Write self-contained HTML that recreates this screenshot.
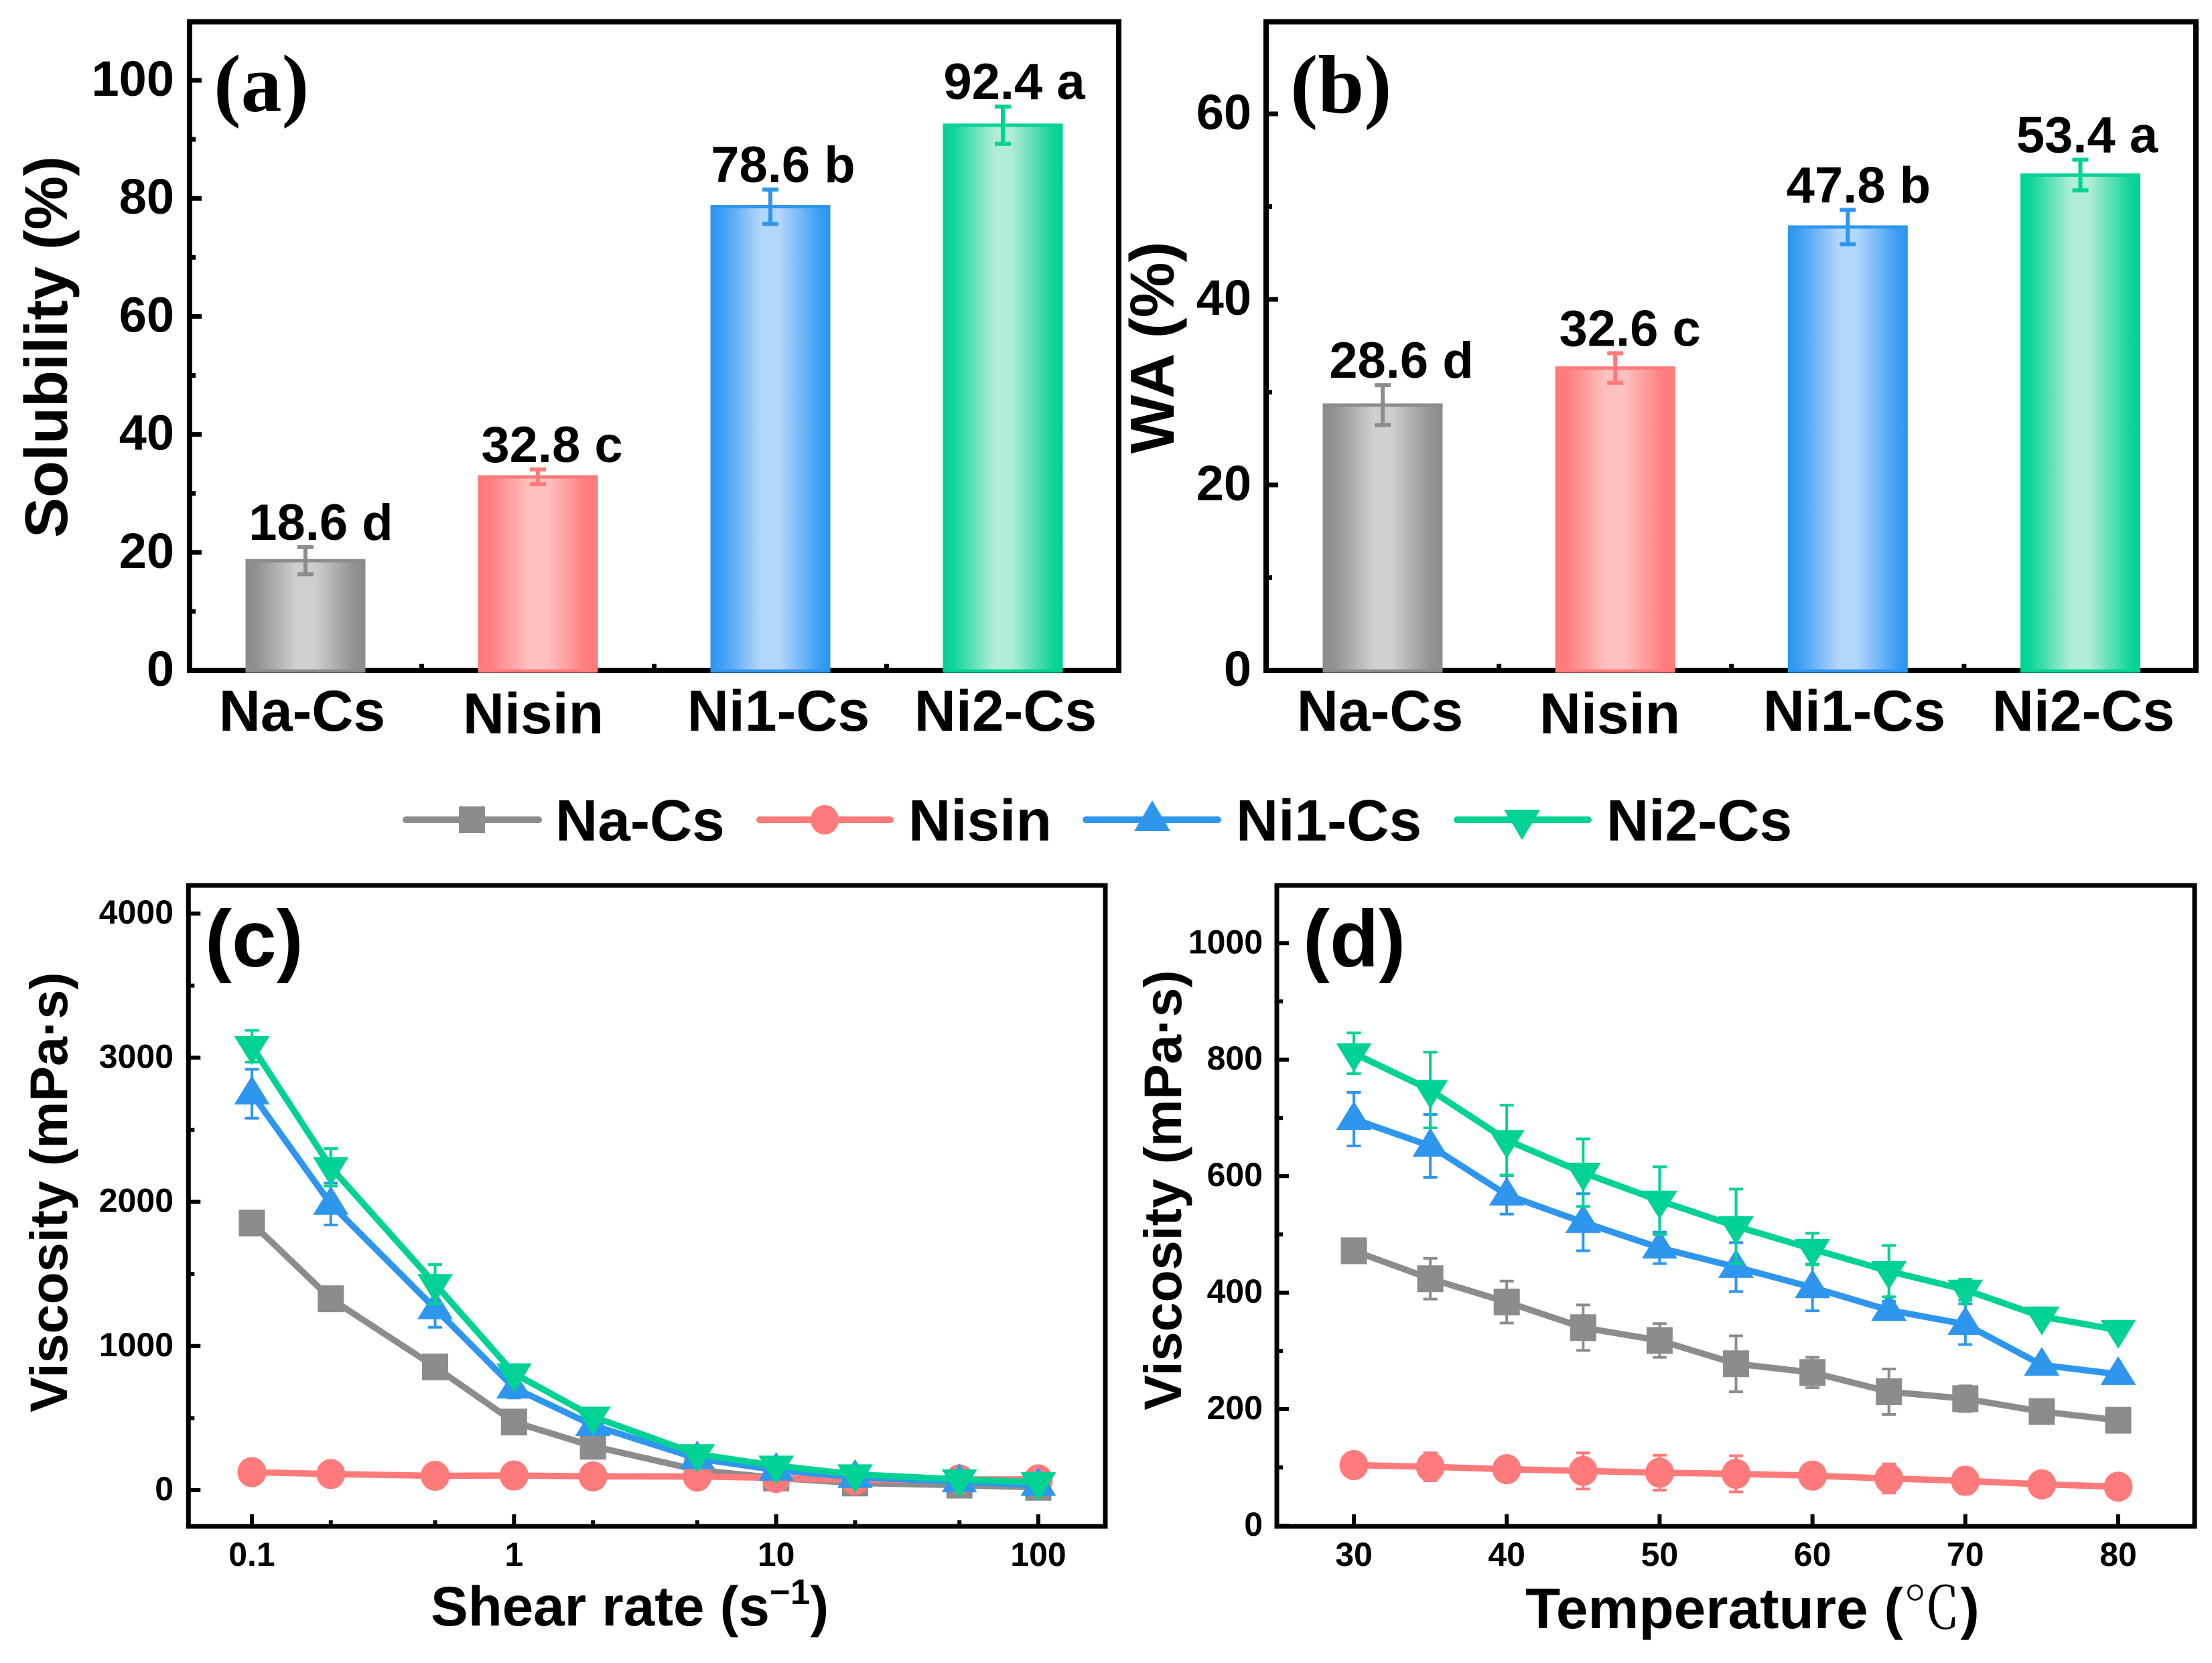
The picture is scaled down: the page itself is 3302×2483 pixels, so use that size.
<!DOCTYPE html>
<html lang="en">
<head>
<meta charset="utf-8">
<title>Solubility, WA and viscosity of Cs films</title>
<style>
html,body{margin:0;padding:0;background:#fff;}
svg{display:block;}
text{font-family:"Liberation Sans","Noto Sans CJK SC",sans-serif;font-weight:bold;fill:#000;}
.serif{font-family:"Liberation Serif","Noto Serif CJK SC",serif;}
</style>
</head>
<body>
<svg id="figure" xmlns="http://www.w3.org/2000/svg" width="3302" height="2483" viewBox="0 0 3302 2483">
  <defs>
    <linearGradient id="grad-gray" x1="0" x2="1" y1="0" y2="0"><stop offset="0" stop-color="#8c8c8c"/><stop offset=".08" stop-color="#919191"/><stop offset=".42" stop-color="#cfcfcf"/><stop offset=".58" stop-color="#cfcfcf"/><stop offset=".92" stop-color="#919191"/><stop offset="1" stop-color="#8c8c8c"/></linearGradient>
    <linearGradient id="grad-red" x1="0" x2="1" y1="0" y2="0"><stop offset="0" stop-color="#ff7a7a"/><stop offset=".08" stop-color="#ff7d7d"/><stop offset=".42" stop-color="#ffc0c0"/><stop offset=".58" stop-color="#ffc0c0"/><stop offset=".92" stop-color="#ff7d7d"/><stop offset="1" stop-color="#ff7a7a"/></linearGradient>
    <linearGradient id="grad-blue" x1="0" x2="1" y1="0" y2="0"><stop offset="0" stop-color="#2f96ee"/><stop offset=".08" stop-color="#3d9ef2"/><stop offset=".42" stop-color="#b3d6fb"/><stop offset=".58" stop-color="#b3d6fb"/><stop offset=".92" stop-color="#3d9ef2"/><stop offset="1" stop-color="#2f96ee"/></linearGradient>
    <linearGradient id="grad-green" x1="0" x2="1" y1="0" y2="0"><stop offset="0" stop-color="#00d295"/><stop offset=".08" stop-color="#14d59c"/><stop offset=".42" stop-color="#b0ecd6"/><stop offset=".58" stop-color="#b0ecd6"/><stop offset=".92" stop-color="#14d59c"/><stop offset="1" stop-color="#00d295"/></linearGradient>
  </defs>

  <g id="panel-a"></g>
  <g id="panel-b"></g>
  <g id="panel-c"></g>
  <g id="panel-d"></g>

  <!-- Panel labels and titles -->
  <text class="serif" x="319" y="166" font-size="122">(a)</text>
  <text class="serif" x="1926" y="168" font-size="124">(b)</text>
  <text x="306" y="1443" font-size="120">(c)</text>
  <text x="1945" y="1443" font-size="120">(d)</text>

  <text transform="translate(100,518) rotate(-90)" text-anchor="middle" font-size="90">Solubility (%)</text>
  <text transform="translate(1752,519) rotate(-90)" text-anchor="middle" font-size="93">WA (%)</text>
  <text transform="translate(100,1780) rotate(-90)" text-anchor="middle" font-size="79">Viscosity (mPa·s)</text>
  <text transform="translate(1763,1777) rotate(-90)" text-anchor="middle" font-size="79">Viscosity (mPa·s)</text>

  <text x="643" y="2427" font-size="83.5">Shear rate (s<tspan dy="-32" font-size="53">−1</tspan><tspan dy="32">)</tspan></text>
  <text x="2277" y="2431" font-size="85.5">Temperature (<tspan class="serif" style="font-weight:normal">℃</tspan>)</text>

  <!-- Category labels, panel a -->
  <g>
    <text x="451" y="1091" font-size="86" text-anchor="middle">Na-Cs</text>
    <text x="796" y="1095" font-size="86" text-anchor="middle">Nisin</text>
    <text x="1162" y="1091" font-size="86" text-anchor="middle">Ni1-Cs</text>
    <text x="1501" y="1091" font-size="86" text-anchor="middle">Ni2-Cs</text>
  </g>
  <!-- Category labels, panel b -->
  <g>
    <text x="2060" y="1091" font-size="86" text-anchor="middle">Na-Cs</text>
    <text x="2403" y="1095" font-size="86" text-anchor="middle">Nisin</text>
    <text x="2768" y="1091" font-size="86" text-anchor="middle">Ni1-Cs</text>
    <text x="3110" y="1091" font-size="86" text-anchor="middle">Ni2-Cs</text>
  </g>

  <!-- Legend -->
  <g>
    <g>
      <line x1="606" y1="1224" x2="804" y2="1224" stroke="#8c8c8c" stroke-width="10" stroke-linecap="round"/>
      <rect x="685" y="1204" width="39" height="40" fill="#8c8c8c"/>
      <text x="829" y="1255" font-size="87.5">Na-Cs</text>
    </g>
    <g>
      <line x1="1134" y1="1224" x2="1329" y2="1224" stroke="#ff7a7a" stroke-width="10" stroke-linecap="round"/>
      <ellipse cx="1231" cy="1224" rx="21" ry="22" fill="#ff7a7a"/>
      <text x="1356" y="1255" font-size="87.5">Nisin</text>
    </g>
    <g>
      <line x1="1621" y1="1224" x2="1818" y2="1224" stroke="#2f96ee" stroke-width="10" stroke-linecap="round"/>
      <polygon points="1720,1195 1747,1241 1693,1241" fill="#2f96ee"/>
      <text x="1845" y="1255" font-size="87.5">Ni1-Cs</text>
    </g>
    <g>
      <line x1="2175" y1="1224" x2="2371" y2="1224" stroke="#00d295" stroke-width="10" stroke-linecap="round"/>
      <polygon points="2245,1209 2299,1209 2272,1254" fill="#00d295"/>
      <text x="2398" y="1255" font-size="87.5">Ni2-Cs</text>
    </g>
  </g>
</svg>

<script>
// ---------- Panel (a) and (b) data ----------
const barCategories = ['Na-Cs', 'Nisin', 'Ni1-Cs', 'Ni2-Cs'];
const solubilityValues = [18.6, 32.8, 78.6, 92.4];
const solubilityErrors = [2.3, 1.25, 2.9, 3.15];
const solubilityLetters = ['d', 'c', 'b', 'a'];
const solubilityMajorTicks = [0, 20, 40, 60, 80, 100];
const solubilityMinorTicks = [10, 30, 50, 70, 90];
const waValues = [28.6, 32.6, 47.8, 53.4];
const waErrors = [2.15, 1.6, 1.85, 1.65];
const waLetters = ['d', 'c', 'b', 'a'];
const waMajorTicks = [0, 20, 40, 60];
const waMinorTicks = [10, 30, 50];

// ---------- Panel (c) data ----------
const shearRates = [0.1, 0.2, 0.5, 1, 2, 5, 10, 20, 50, 100];
const shearNaCs = [1853, 1328, 855, 473, 305, 140, 85, 50, 35, 20];
const shearNisin = [125, 112, 100, 102, 96, 95, 85, 70, 75, 75];
const shearNi1Cs = [2750, 1985, 1260, 710, 450, 220, 140, 90, 60, 35];
const shearNi2Cs = [3080, 2240, 1430, 810, 510, 250, 170, 110, 75, 55];
const shearNaCsErr = [50, 40, 35, 30, 25, 15, 10, 8, 6, 5];
const shearNisinErr = [20, 18, 15, 15, 12, 12, 10, 10, 10, 10];
const shearNi1CsErr = [170, 145, 130, 70, 50, 30, 20, 15, 10, 8];
const shearNi2CsErr = [110, 130, 135, 60, 40, 25, 20, 15, 10, 8];
const shearMajorTicks = [0.1, 1, 10, 100];
const shearMinorTicks = [0.2, 0.5, 2, 5, 20, 50];
const viscosityCMajorTicks = [0, 1000, 2000, 3000, 4000];
const viscosityCMinorTicks = [500, 1500, 2500, 3500];

// ---------- Panel (d) data ----------
const temperatures = [30, 35, 40, 45, 50, 55, 60, 65, 70, 75, 80];
const tempNaCs = [472, 424, 384, 340, 318, 278, 263, 230, 218, 196, 181];
const tempNisin = [104, 101, 97, 94, 91, 89, 86, 81, 77, 71, 67];
const tempNi1Cs = [698, 652, 568, 521, 477, 444, 409, 370, 346, 276, 260];
const tempNi2Cs = [811, 748, 662, 606, 558, 514, 475, 437, 405, 359, 336];
const tempNaCsErr = [15, 35, 36, 39, 29, 48, 26, 39, 22, 10, 5];
const tempNisinErr = [10, 24, 10, 31, 30, 31, 5, 25, 22, 10, 3];
const tempNi1CsErr = [46, 54, 33, 49, 27, 42, 40, 15, 35, 3, 3];
const tempNi2CsErr = [35, 65, 60, 58, 58, 64, 27, 44, 18, 5, 3];
const temperatureMajorTicks = [30, 40, 50, 60, 70, 80];
const viscosityDMajorTicks = [0, 200, 400, 600, 800, 1000];
const viscosityDMinorTicks = [100, 300, 500, 700, 900];

const NS = 'http://www.w3.org/2000/svg';
const seriesNames = ['na-cs', 'nisin', 'ni1-cs', 'ni2-cs'];
const seriesColors = ['#8c8c8c', '#ff7a7a', '#2f96ee', '#00d295'];
const barFills = ['url(#grad-gray)', 'url(#grad-red)', 'url(#grad-blue)', 'url(#grad-green)'];

function make(parent, tag, attrs, name) {
  const el = document.createElementNS(NS, tag);
  for (const k in attrs) el.setAttribute(k, attrs[k]);
  
  
  parent.appendChild(el);
  return el;
}
function linear(d0, d1, r0, r1) {
  return function (v) { return r0 + (v - d0) * (r1 - r0) / (d1 - d0); };
}
function logScale(d0, d1, r0, r1) {
  return function (v) { return r0 + (Math.log10(v) - Math.log10(d0)) * (r1 - r0) / (Math.log10(d1) - Math.log10(d0)); };
}
function line(parent, x1, y1, x2, y2, color, w, name) {
  return make(parent, 'line', { x1: x1, y1: y1, x2: x2, y2: y2, stroke: color, 'stroke-width': w }, name);
}

function drawFrame(g, box, sw) {
  make(g, 'rect', { x: box.l, y: box.t, width: box.r - box.l, height: box.b - box.t, fill: 'none', stroke: '#000', 'stroke-width': sw }, 'plot-frame');
}
function drawYAxis(g, box, y, major, minor, opt) {
  major.forEach(function (v) {
    line(g, box.l, y(v), box.l + opt.majorLen, y(v), '#000', opt.tickW, 'y-tick');
    const t = make(g, 'text', { x: opt.labelX, y: y(v) + opt.labelDy, 'text-anchor': 'end', 'font-size': opt.fontSize }, 'y-tick-label');
    t.textContent = String(v);
  });
  minor.forEach(function (v) {
    line(g, box.l, y(v), box.l + opt.minorLen, y(v), '#000', opt.tickW, 'y-minor-tick');
  });
}
function drawXAxis(g, box, x, major, minor, opt) {
  major.forEach(function (v) {
    line(g, x(v), box.b, x(v), box.b - opt.majorLen, '#000', opt.tickW, 'x-tick');
    const t = make(g, 'text', { x: x(v), y: opt.labelY, 'text-anchor': 'middle', 'font-size': opt.fontSize }, 'x-tick-label');
    t.textContent = String(v);
  });
  minor.forEach(function (v) {
    line(g, x(v), box.b, x(v), box.b - opt.minorLen, '#000', opt.tickW, 'x-minor-tick');
  });
}

function drawBarPanel(id, box, x, y, values, errors, letters, major, minor, labelX, labelDx0, labelDxStep) {
  const g = document.getElementById(id);
  drawFrame(g, box, 8);
  drawYAxis(g, box, y, major, minor, { majorLen: 18, minorLen: 9, tickW: 7, labelX: labelX, labelDy: 23, fontSize: 74 });
  [0.5, 1.5, 2.5].forEach(function (i) {
    line(g, x(i), box.b, x(i), box.b - 10, '#000', 7, 'x-minor-tick');
  });
  const halfWidth = 87;
  values.forEach(function (v, i) {
    const color = seriesColors[i];
    const name = barCategories[i].toLowerCase();
    make(g, 'rect', { x: x(i) - halfWidth, y: y(v), width: halfWidth * 2, height: box.b - y(v) + 1, fill: barFills[i], stroke: color, 'stroke-width': 5 }, 'bar-' + name);
    const top = y(v + errors[i]);
    const bottom = y(v - errors[i]);
    line(g, x(i), top, x(i), bottom, color, 6, 'error-bar-' + name);
    line(g, x(i) - 12, top, x(i) + 12, top, color, 6, 'error-cap-top-' + name);
    line(g, x(i) - 12, bottom, x(i) + 12, bottom, color, 6, 'error-cap-bottom-' + name);
    const t = make(g, 'text', { x: x(i) + labelDx0 + labelDxStep * i, y: top - 11, 'text-anchor': 'middle', 'font-size': 76 }, 'value-label-' + name);
    t.textContent = v.toFixed(1) + ' ' + letters[i];
  });
}

function drawMarker(g, kind, cx, cy, color, name) {
  if (kind === 0) {
    make(g, 'rect', { x: cx - 19.5, y: cy - 20, width: 39, height: 40, fill: color }, name);
  } else if (kind === 1) {
    make(g, 'ellipse', { cx: cx, cy: cy, rx: 21.5, ry: 22.5, fill: color }, name);
  } else if (kind === 2) {
    make(g, 'polygon', { points: cx + ',' + (cy - 27) + ' ' + (cx + 26.5) + ',' + (cy + 16) + ' ' + (cx - 26.5) + ',' + (cy + 16), fill: color }, name);
  } else {
    make(g, 'polygon', { points: (cx - 26.5) + ',' + (cy - 15) + ' ' + (cx + 26.5) + ',' + (cy - 15) + ' ' + cx + ',' + (cy + 28), fill: color }, name);
  }
}

function drawLinePanel(id, box, x, y, xs, seriesList, errorList, frameOpts) {
  const g = document.getElementById(id);
  drawFrame(g, box, 7);
  drawYAxis(g, box, y, frameOpts.yMajor, frameOpts.yMinor, { majorLen: 18, minorLen: 9, tickW: 6, labelX: frameOpts.labelX, labelDy: 15, fontSize: 50 });
  drawXAxis(g, box, x, frameOpts.xMajor, frameOpts.xMinor, { majorLen: 18, minorLen: 9, tickW: 6, labelY: 2338, fontSize: 50 });
  seriesList.forEach(function (vals, s) {
    const color = seriesColors[s];
    const name = seriesNames[s];
    const sg = make(g, 'g', {}, 'series-' + name);
    const pts = vals.map(function (v, i) { return x(xs[i]) + ',' + y(v); }).join(' ');
    make(sg, 'polyline', { points: pts, fill: 'none', stroke: color, 'stroke-width': 9.5, 'stroke-linejoin': 'round' }, 'line-' + name);
    vals.forEach(function (v, i) {
      drawMarker(sg, s, x(xs[i]), y(v), color, 'point-' + name);
    });
    vals.forEach(function (v, i) {
      const e = errorList[s][i];
      const top = y(v + e);
      const bottom = y(v - e);
      const px = x(xs[i]);
      line(sg, px, top, px, bottom, color, 4, 'error-bar-' + name);
      line(sg, px - 10.5, top, px + 10.5, top, color, 4, 'error-cap-top-' + name);
      line(sg, px - 10.5, bottom, px + 10.5, bottom, color, 4, 'error-cap-bottom-' + name);
    });
  });
}

// Axis functions
const boxA = { l: 283, r: 1670, t: 32.5, b: 1001 };
const boxB = { l: 1890, r: 3278, t: 32.5, b: 1001 };
const boxC = { l: 281.3, r: 1650, t: 1322, b: 2279 };
const boxD = { l: 1906, r: 3276, t: 1322, b: 2279 };

drawBarPanel('panel-a', boxA, linear(0, 3, 456, 1497), linear(0, 100, 1001, 120),
  solubilityValues, solubilityErrors, solubilityLetters, solubilityMajorTicks, solubilityMinorTicks, 260, 23, -2);
drawBarPanel('panel-b', boxB, linear(0, 3, 2064, 3105.5), linear(0, 60, 1001, 170),
  waValues, waErrors, waLetters, waMajorTicks, waMinorTicks, 1868, 28, -6);

drawLinePanel('panel-c', boxC, logScale(0.1, 100, 376, 1550), linear(0, 4000, 2225, 1364), shearRates,
  [shearNaCs, shearNisin, shearNi1Cs, shearNi2Cs],
  [shearNaCsErr, shearNisinErr, shearNi1CsErr, shearNi2CsErr],
  { yMajor: viscosityCMajorTicks, yMinor: viscosityCMinorTicks, xMajor: shearMajorTicks, xMinor: shearMinorTicks, labelX: 259 });

drawLinePanel('panel-d', boxD, linear(30, 80, 2021, 3162), linear(0, 1000, 2278, 1408.3), temperatures,
  [tempNaCs, tempNisin, tempNi1Cs, tempNi2Cs],
  [tempNaCsErr, tempNisinErr, tempNi1CsErr, tempNi2CsErr],
  { yMajor: viscosityDMajorTicks, yMinor: viscosityDMinorTicks, xMajor: temperatureMajorTicks, xMinor: [], labelX: 1885 });
</script>
</body>
</html>
